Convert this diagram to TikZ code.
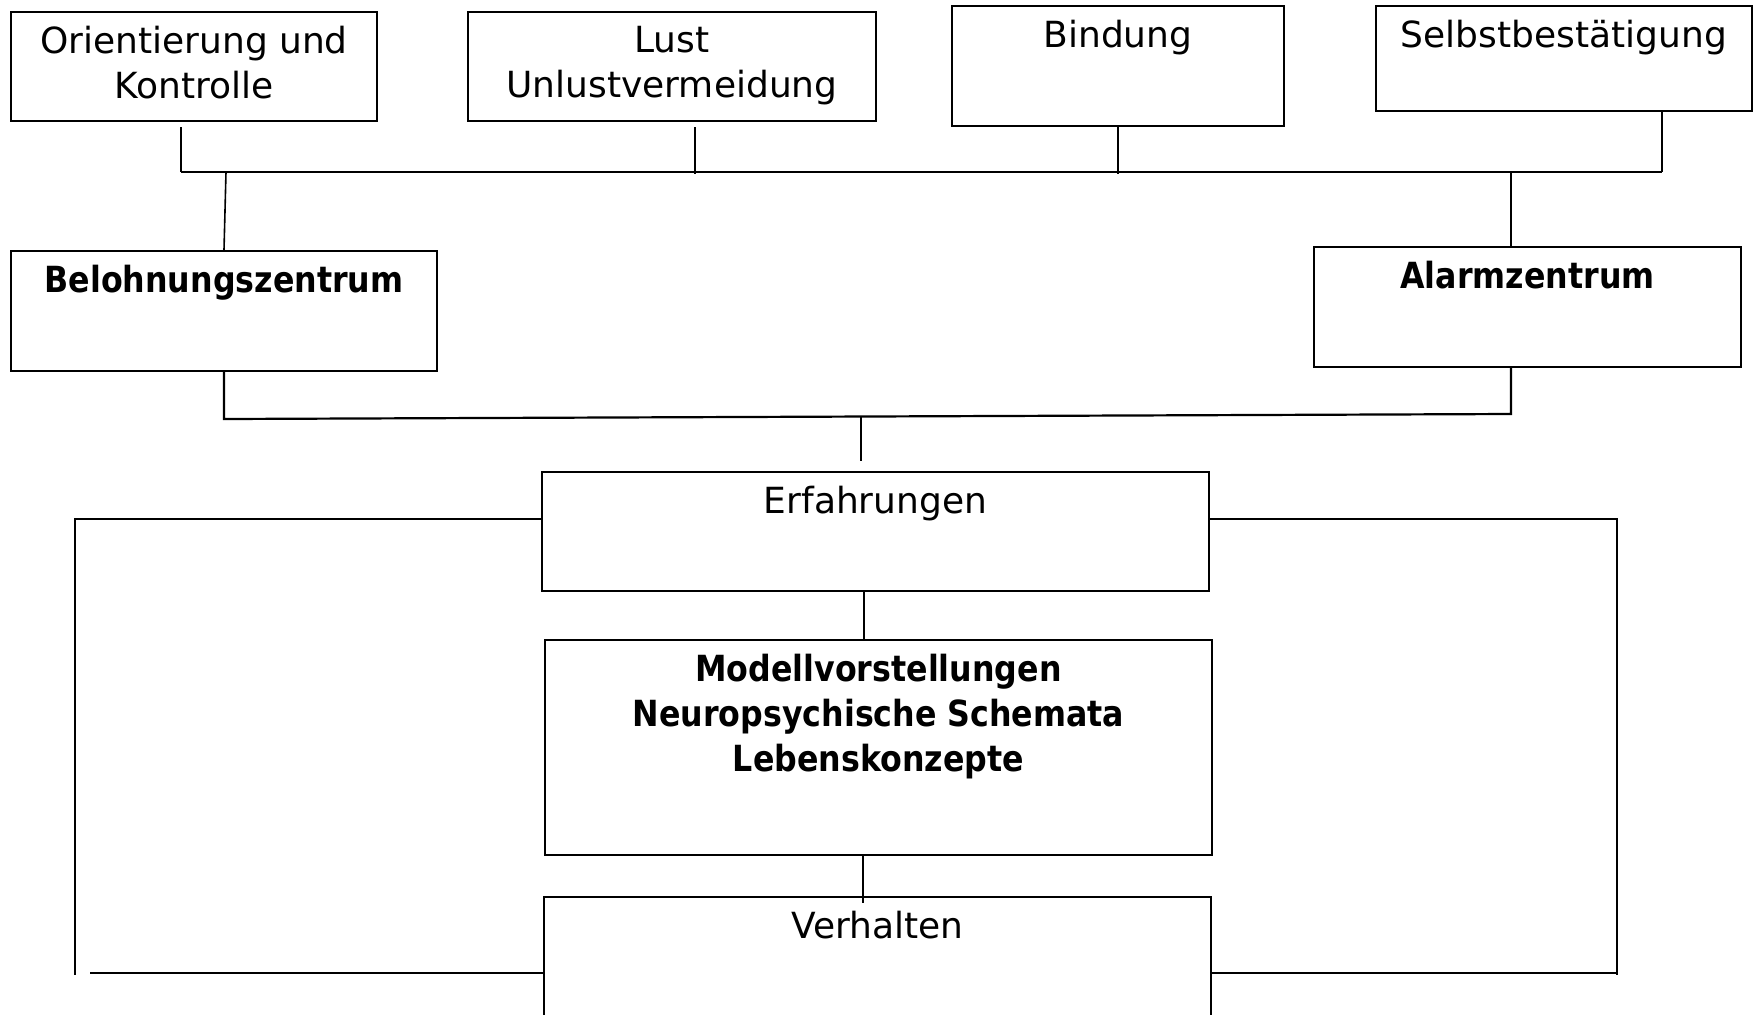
\documentclass[tikz,border=0pt]{standalone}
\usepackage{fontspec}
\setmainfont{DejaVu Sans}
\newfontfamily\headfont{DejaVu Sans}[FakeStretch=0.88]
\usetikzlibrary{fit}

\begin{document}
\begin{tikzpicture}[x=0.5pt,y=-0.5pt,
  box/.style={draw=black,line width=1pt,inner sep=0pt,fill=none},
  lbl/.style={anchor=north,inner sep=0pt,align=center,
    font=\fontsize{18}{22.5}\selectfont},
  blbl/.style={lbl,font=\fontsize{18}{22.5}\selectfont\headfont\bfseries},
  wire/.style={draw=black,line width=0.8pt},
  bus/.style={draw=black,line width=1.1pt}]

\clip (0,0) rectangle (1758,1014);
\fill[white] (0,0) rectangle (1758,1014);

% corner points of the boxes
\coordinate (o1) at (11,12);    \coordinate (o2) at (377,121);
\coordinate (l1) at (468,12);   \coordinate (l2) at (876,121);
\coordinate (bi1) at (952,6);   \coordinate (bi2) at (1284,126);
\coordinate (s1) at (1376,6);   \coordinate (s2) at (1752,111);
\coordinate (be1) at (11,251);  \coordinate (be2) at (437,371);
\coordinate (al1) at (1314,247);\coordinate (al2) at (1741,367);
\coordinate (e1) at (542,472);  \coordinate (e2) at (1209,591);
\coordinate (m1) at (545,640);  \coordinate (m2) at (1212,855);
\coordinate (v1) at (544,897);  \coordinate (v2) at (1211,1040);

% boxes
\node[box,fit=(o1)(o2)]   (ori) {};
\node[box,fit=(l1)(l2)]   (lust) {};
\node[box,fit=(bi1)(bi2)] (bind) {};
\node[box,fit=(s1)(s2)]   (selbst) {};
\node[box,fit=(be1)(be2)] (beloh) {};
\node[box,fit=(al1)(al2)] (alarm) {};
\node[box,fit=(e1)(e2)]   (erf) {};
\node[box,fit=(m1)(m2)]   (mod) {};
\node[box,fit=(v1)(v2)]   (verh) {};

% labels
\node[lbl]  (ori-t)    at ([yshift=-7.5pt]ori.north)    {Orientierung und\\Kontrolle};
\node[lbl]  (lust-t)   at ([yshift=-7.5pt]lust.north)   {Lust\\Unlustvermeidung};
\node[lbl]  (bind-t)   at ([yshift=-7.5pt]bind.north)   {Bindung};
\node[lbl]  (selbst-t) at ([yshift=-7.5pt]selbst.north) {Selbstbestätigung};
\node[blbl] (beloh-t)  at ([yshift=-7.5pt]beloh.north)  {Belohnungszentrum};
\node[blbl] (alarm-t)  at ([yshift=-7.5pt]alarm.north)  {Alarmzentrum};
\node[lbl]  (erf-t)    at ([yshift=-7.5pt]erf.north)    {Erfahrungen};
\node[blbl] (mod-t)    at ([yshift=-7.5pt]mod.north)    {Modellvorstellungen\\Neuropsychische Schemata\\Lebenskonzepte};
\node[lbl]  (verh-t)   at ([yshift=-7.5pt]verh.north)   {Verhalten};

% upper collecting line
\coordinate (busL) at (181,172);
\coordinate (busR) at (1662,172);
\coordinate (oriS) at (181,127);
\coordinate (lustS) at (695,127);
\coordinate (lustB) at (695,174);
\coordinate (bindB) at (1118,174);
\coordinate (belJ) at (226,172);
\coordinate (alJ) at (1511,172);
\draw[bus] (busL) -- (busR);
\draw[wire] (oriS) -- (busL);
\draw[wire] (lustS) -- (lustB);
\draw[wire] (bind.south) -- (bindB);
\draw[wire] (selbst.south -| busR) -- (busR);
\draw[wire] (belJ) -- (beloh.north);
\draw[wire] (alJ) -- (alJ |- alarm.north);

% lower collecting line
\coordinate (botL) at (224,419);
\coordinate (botR) at (1511,414);
\coordinate (midA) at (861,416);
\coordinate (midB) at (861,461);
\draw[bus] (beloh.south) -- (botL) -- (botR) -- (alarm.south -| botR);
\draw[wire] (midA) -- (midB);

% central column
\coordinate (colA) at (864,0);
\coordinate (colB) at (863,903);
\draw[wire] (colA |- erf.south) -- (colA |- mod.north);
\draw[wire] (colB |- mod.south) -- (colB);

% feedback loops
\coordinate (lt) at (75,519);
\coordinate (lb) at (75,975);
\coordinate (lbs) at (90,973);
\coordinate (rt) at (1617,519);
\coordinate (rb) at (1617,975);
\coordinate (rbs) at (1617,973);
\draw[wire] (erf.west |- lt) -- (lt) -- (lb);
\draw[bus] (lbs) -- (verh.west |- lbs);
\draw[wire] (erf.east |- rt) -- (rt) -- (rb);
\draw[bus] (verh.east |- rbs) -- (rbs);
\end{tikzpicture}
\end{document}
